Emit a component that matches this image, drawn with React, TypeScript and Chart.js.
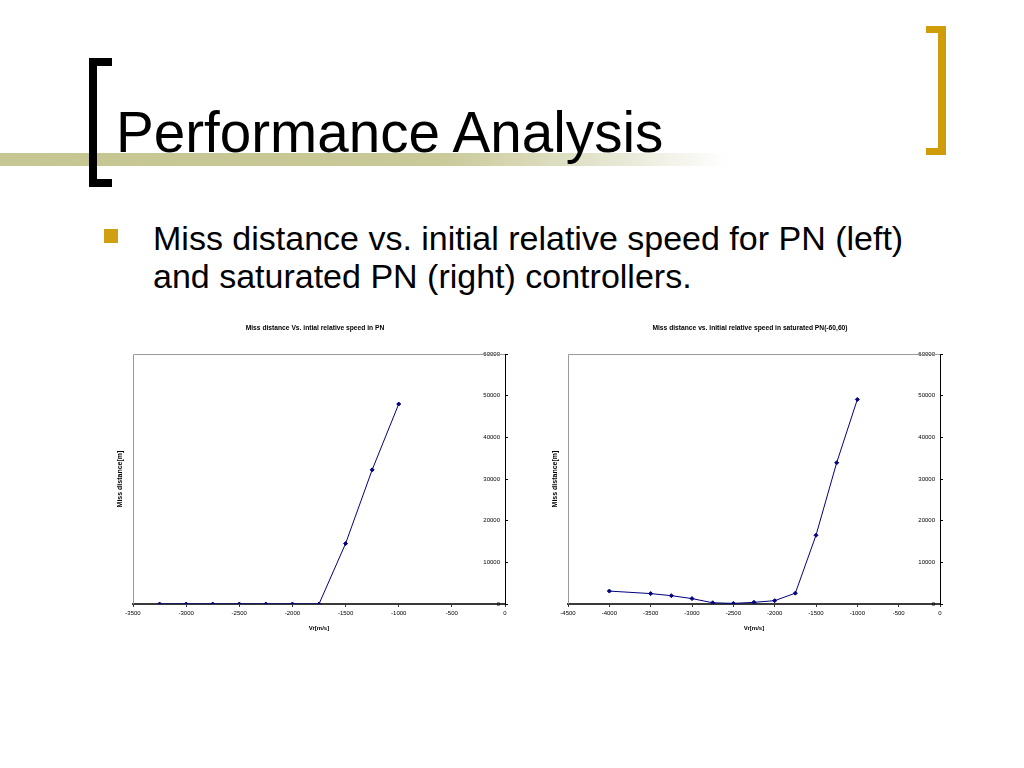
import React, { useEffect, useRef } from "react";
import { Chart, registerables } from "chart.js";

Chart.register(...registerables);

// ---- data ----
const leftTitle = "Miss distance Vs. intial relative speed in PN";
const leftSpeeds = [-3250, -3000, -2750, -2500, -2250, -2000, -1750, -1500, -1250, -1000];
const leftMiss = [0, 0, 0, 0, 0, 0, 0, 14500, 32200, 48000];
const leftXMin = -3500;

const rightTitle = "Miss distance vs. initial relative speed in saturated PN(-60,60)";
const rightSpeeds = [-4000, -3500, -3250, -3000, -2750, -2500, -2250, -2000, -1750, -1500, -1250, -1000];
const rightMiss = [3100, 2500, 2000, 1300, 300, 150, 400, 800, 2600, 16500, 33900, 49100];
const rightXMin = -4500;

const xMax = 0;
const xStep = 500;
const yMin = 0;
const yMax = 60000;
const yStep = 10000;
const xAxisTitle = "Vr[m/s]";
const yAxisTitle = "Miss distance[m]";

const FONT = "'Liberation Sans', Arial, sans-serif";
const NAVY = "#000080";

const framePlugin = {
  id: "frame",
  beforeDatasetsDraw(chart: any) {
    const { ctx, chartArea } = chart;
    ctx.save();
    ctx.strokeStyle = "#9a9a9a";
    ctx.lineWidth = 1;
    ctx.beginPath();
    ctx.moveTo(chartArea.left + 0.5, chartArea.bottom);
    ctx.lineTo(chartArea.left + 0.5, chartArea.top + 0.5);
    ctx.lineTo(chartArea.right, chartArea.top + 0.5);
    ctx.stroke();
    ctx.restore();
  },
};

function MissChart(props: {
  title: string;
  xs: number[];
  ys: number[];
  xMin: number;
  left: number;
  top: number;
}) {
  const ref = useRef<HTMLCanvasElement | null>(null);
  useEffect(() => {
    if (!ref.current) return;
    const points = props.xs.map((x, i) => ({ x, y: props.ys[i] }));
    const chart = new Chart(ref.current, {
      type: "line",
      data: {
        datasets: [
          {
            data: points,
            borderColor: NAVY,
            backgroundColor: NAVY,
            borderWidth: 1,
            pointStyle: "rectRot",
            pointRadius: 2,
            pointBackgroundColor: NAVY,
            pointBorderColor: NAVY,
            tension: 0,
            yAxisID: "y",
            xAxisID: "x",
          },
        ],
      },
      plugins: [framePlugin],
      options: {
        responsive: false,
        animation: false,
        devicePixelRatio: 1,
        layout: { padding: 0 },
        plugins: {
          legend: { display: false },
          tooltip: { enabled: false },
          title: {
            display: true,
            text: props.title,
            color: "#000",
            font: { family: FONT, size: 6.7, weight: "bold", lineHeight: 1.2 },
            padding: { top: 9, bottom: 22 },
          },
        },
        scales: {
          x: {
            type: "linear",
            position: "bottom",
            min: props.xMin,
            max: xMax,
            ticks: {
              stepSize: xStep,
              color: "#000",
              font: { family: FONT, size: 6 },
              padding: 3,
              maxRotation: 0,
              autoSkip: false,
              callback: (v: any) => String(v),
            },
            grid: { display: true, drawOnChartArea: false, drawTicks: true, tickLength: 3, color: "#333" },
            border: { display: true, color: "#3a3a3a", width: 2 },
            title: {
              display: true,
              text: xAxisTitle,
              color: "#000",
              font: { family: FONT, size: 6, weight: "bold" },
              padding: { top: 3, bottom: 13 },
            },
            afterFit: (s: any) => {
              s.height = 41;
            },
          },
          y: {
            type: "linear",
            position: "right",
            min: yMin,
            max: yMax,
            ticks: {
              stepSize: yStep,
              mirror: true,
              padding: -5,
              color: "#000",
              font: { family: FONT, size: 6 },
              callback: (v: any) => String(v),
            },
            grid: { display: true, drawOnChartArea: false, drawTicks: true, tickLength: 3, color: "#000" },
            border: { display: true, color: "#000", width: 1 },
            afterFit: (s: any) => {
              s.width = 25;
            },
          },
          yL: {
            type: "linear",
            position: "left",
            min: yMin,
            max: yMax,
            ticks: { display: false },
            grid: { display: false, drawTicks: false },
            border: { display: false },
            title: {
              display: true,
              text: yAxisTitle,
              color: "#000",
              font: { family: FONT, size: 7, weight: "bold" },
              padding: { top: 16, bottom: 0 },
            },
            afterFit: (s: any) => {
              s.width = 33;
            },
          },
        },
      } as any,
    });
    return () => chart.destroy();
  }, []);
  return (
    <canvas
      ref={ref}
      width={430}
      height={330}
      style={{ position: "absolute", left: props.left, top: props.top, width: 430, height: 330 }}
    />
  );
}

export default function App() {
  return (
    <div
      style={{
        position: "absolute",
        left: 0,
        top: 0,
        width: 1024,
        height: 768,
        background: "#fff",
        overflow: "hidden",
        fontFamily: "'Liberation Sans', Arial, sans-serif",
      }}
    >
      {/* olive rule */}
      <div
        style={{
          position: "absolute",
          left: 0,
          top: 153,
          width: 730,
          height: 13,
          background: "linear-gradient(to right, #c6c692 0%, #c9c999 60%, #e8e8d6 85%, #ffffff 100%)",
        }}
      />
      {/* left black bracket */}
      <div style={{ position: "absolute", left: 89, top: 58, width: 8, height: 129, background: "#000" }} />
      <div style={{ position: "absolute", left: 89, top: 58, width: 23, height: 8, background: "#000" }} />
      <div style={{ position: "absolute", left: 89, top: 179, width: 23, height: 8, background: "#000" }} />
      {/* right gold bracket */}
      <div style={{ position: "absolute", left: 938, top: 26, width: 8, height: 129, background: "#cf9d0a" }} />
      <div style={{ position: "absolute", left: 926, top: 26, width: 20, height: 7, background: "#cf9d0a" }} />
      <div style={{ position: "absolute", left: 926, top: 148, width: 20, height: 7, background: "#cf9d0a" }} />
      {/* title */}
      <div
        style={{
          position: "absolute",
          left: 116,
          top: 105,
          fontSize: 56.6,
          lineHeight: "56px",
          color: "#000",
          whiteSpace: "nowrap",
        }}
      >
        Performance Analysis
      </div>
      {/* bullet */}
      <div style={{ position: "absolute", left: 104, top: 229, width: 14, height: 14, background: "#d0a010" }} />
      <div
        style={{
          position: "absolute",
          left: 153,
          top: 219,
          width: 800,
          fontSize: 34,
          lineHeight: "38px",
          color: "#000",
        }}
      >
        Miss distance vs. initial relative speed for PN (left)
        <br />
        and saturated PN (right) controllers.
      </div>
      <MissChart title={leftTitle} xs={leftSpeeds} ys={leftMiss} xMin={leftXMin} left={100} top={315} />
      <MissChart title={rightTitle} xs={rightSpeeds} ys={rightMiss} xMin={rightXMin} left={535} top={315} />
    </div>
  );
}
